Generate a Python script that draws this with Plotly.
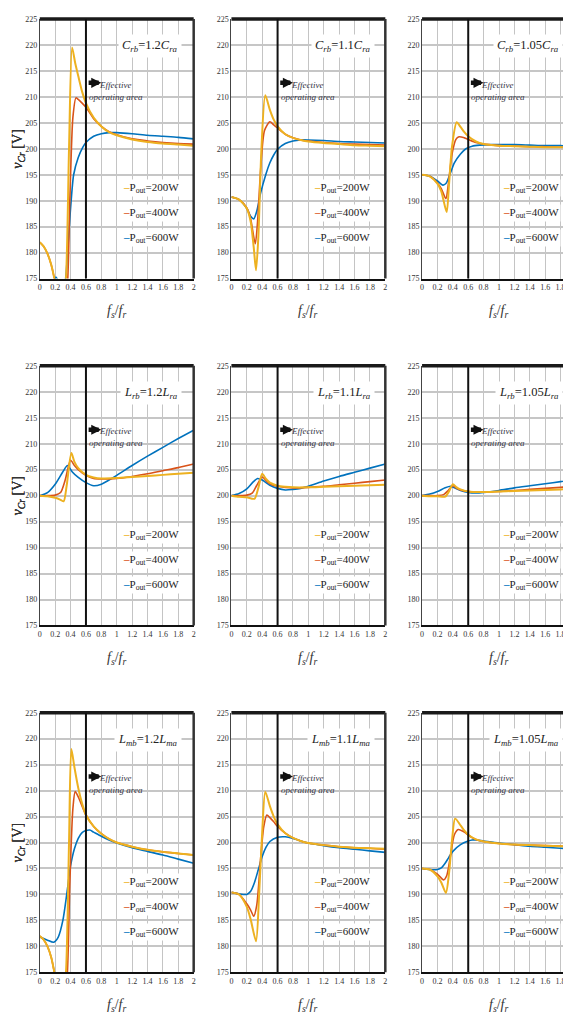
import plotly.graph_objects as go

# ---------------- data ----------------
X_TICKS = [0, 0.2, 0.4, 0.6, 0.8, 1, 1.2, 1.4, 1.6, 1.8, 2]
Y_TICKS = [175, 180, 185, 190, 195, 200, 205, 210, 215, 220, 225]
PANEL_LABELS = [
    "<i>C</i><sub><i>rb</i></sub>=1.2<i>C</i><sub><i>ra</i></sub>",
    "<i>C</i><sub><i>rb</i></sub>=1.1<i>C</i><sub><i>ra</i></sub>",
    "<i>C</i><sub><i>rb</i></sub>=1.05<i>C</i><sub><i>ra</i></sub>",
    "<i>L</i><sub><i>rb</i></sub>=1.2<i>L</i><sub><i>ra</i></sub>",
    "<i>L</i><sub><i>rb</i></sub>=1.1<i>L</i><sub><i>ra</i></sub>",
    "<i>L</i><sub><i>rb</i></sub>=1.05<i>L</i><sub><i>ra</i></sub>",
    "<i>L</i><sub><i>mb</i></sub>=1.2<i>L</i><sub><i>ma</i></sub>",
    "<i>L</i><sub><i>mb</i></sub>=1.1<i>L</i><sub><i>ma</i></sub>",
    "<i>L</i><sub><i>mb</i></sub>=1.05<i>L</i><sub><i>ma</i></sub>",
]
SERIES_NAMES = ["P<sub>out</sub>=200W", "P<sub>out</sub>=400W", "P<sub>out</sub>=600W"]
SERIES_COLORS = ["#EDB120", "#D95319", "#0072BD"]
VLINE_X = 0.6

# Panel A: C_rb = 1.2 C_ra
A_X_200 = [0, 0.05, 0.1, 0.15, 0.19, 0.25, 0.3, 0.34, 0.38, 0.42, 0.46, 0.5, 0.55, 0.6, 0.7, 0.8, 0.9, 1.0, 1.2, 1.4, 1.6, 1.8, 2.0]
A_Y_200 = [182, 181.2, 179.8, 177.6, 175, 171, 170, 175, 200, 219.5, 216.5, 214, 211, 208.8, 206, 204.3, 203.2, 202.6, 201.8, 201.3, 201, 200.8, 200.6]
A_X_400 = [0, 0.05, 0.1, 0.15, 0.19, 0.25, 0.3, 0.35, 0.39, 0.43, 0.47, 0.5, 0.55, 0.6, 0.7, 0.8, 0.9, 1.0, 1.2, 1.4, 1.6, 1.8, 2.0]
A_Y_400 = [182, 181.2, 179.8, 177.6, 175, 171, 169.5, 172, 190, 206, 209.8, 209.5, 208.8, 208, 205.8, 204.3, 203.3, 202.7, 201.9, 201.5, 201.2, 201, 200.9]
A_X_600 = [0, 0.15, 0.21, 0.26, 0.32, 0.36, 0.4, 0.44, 0.5, 0.56, 0.6, 0.7, 0.8, 0.9, 1.0, 1.2, 1.4, 1.6, 1.8, 2.0]
A_Y_600 = [170, 173, 175.3, 174, 174.2, 180, 188.5, 195, 198.3, 200.3, 201.2, 202.4, 202.9, 203.1, 203.1, 202.9, 202.6, 202.4, 202.2, 201.9]

# Panel B: C_rb = 1.1 C_ra
B_X_200 = [0, 0.1, 0.2, 0.25, 0.29, 0.32, 0.35, 0.39, 0.44, 0.5, 0.55, 0.6, 0.7, 0.8, 0.9, 1.0, 1.2, 1.4, 1.6, 1.8, 2.0]
B_Y_200 = [190.7, 190.2, 188.5, 186, 181, 176.6, 183, 200, 210.3, 207.5, 205.6, 204.3, 202.8, 202.1, 201.7, 201.4, 201.1, 200.9, 200.7, 200.6, 200.5]
B_X_400 = [0, 0.1, 0.2, 0.25, 0.31, 0.34, 0.38, 0.43, 0.5, 0.55, 0.6, 0.7, 0.8, 0.9, 1.0, 1.2, 1.4, 1.6, 1.8, 2.0]
B_Y_400 = [190.7, 190.2, 188.6, 186.5, 181.7, 186, 196, 203.5, 205.2, 204.6, 204, 202.8, 202.1, 201.7, 201.5, 201.2, 201, 200.9, 200.8, 200.7]
B_X_600 = [0, 0.1, 0.2, 0.25, 0.29, 0.33, 0.38, 0.45, 0.5, 0.55, 0.6, 0.7, 0.8, 0.9, 1.0, 1.2, 1.4, 1.6, 1.8, 2.0]
B_Y_600 = [190.7, 190.2, 188.5, 187, 186.5, 188, 191.5, 195.2, 197.3, 198.8, 199.9, 201, 201.5, 201.7, 201.7, 201.6, 201.4, 201.3, 201.2, 201.1]

# Panel C: C_rb = 1.05 C_ra
C_X_200 = [0, 0.1, 0.2, 0.25, 0.32, 0.35, 0.39, 0.45, 0.5, 0.55, 0.6, 0.7, 0.8, 1.0, 1.2, 1.4, 1.6, 1.8, 2.0]
C_Y_200 = [195, 194.7, 193.3, 191.8, 187.8, 193, 200.5, 205.1, 204.2, 203.2, 202.4, 201.4, 200.9, 200.6, 200.5, 200.4, 200.3, 200.3, 200.3]
C_X_400 = [0, 0.1, 0.2, 0.25, 0.31, 0.34, 0.39, 0.44, 0.48, 0.55, 0.6, 0.7, 0.8, 1.0, 1.2, 1.4, 1.6, 1.8, 2.0]
C_Y_400 = [195, 194.7, 193.4, 192.3, 190.4, 193, 199, 201.8, 202.3, 202.1, 201.8, 201.2, 200.9, 200.6, 200.5, 200.4, 200.4, 200.3, 200.3]
C_X_600 = [0, 0.1, 0.2, 0.27, 0.31, 0.36, 0.42, 0.5, 0.57, 0.65, 0.75, 0.9, 1.0, 1.2, 1.4, 1.6, 1.8, 2.0]
C_Y_600 = [195, 194.7, 193.8, 193, 193.3, 195, 197.3, 199, 200, 200.5, 200.7, 200.8, 200.8, 200.8, 200.7, 200.6, 200.6, 200.5]

# Panel D: L_rb = 1.2 L_ra
D_X_200 = [0, 0.1, 0.2, 0.27, 0.31, 0.35, 0.41, 0.45, 0.5, 0.6, 0.7, 0.8, 1.0, 1.2, 1.4, 1.6, 1.8, 2.0]
D_Y_200 = [200, 199.9, 199.6, 199.2, 198.9, 202, 208.2, 206.5, 205.3, 204, 203.5, 203.3, 203.4, 203.6, 203.8, 204, 204.2, 204.4]
D_X_400 = [0, 0.1, 0.2, 0.27, 0.33, 0.4, 0.45, 0.5, 0.6, 0.7, 0.8, 1.0, 1.2, 1.4, 1.6, 1.8, 2.0]
D_Y_400 = [200, 200, 200.1, 200.6, 203, 206.8, 205.8, 205, 203.9, 203.3, 203.2, 203.3, 203.7, 204.2, 204.8, 205.4, 206.1]
D_X_600 = [0, 0.1, 0.2, 0.3, 0.36, 0.42, 0.5, 0.6, 0.7, 0.8, 0.9, 1.0, 1.2, 1.4, 1.6, 1.8, 2.0]
D_Y_600 = [200, 200.6, 202.2, 204.6, 205.8, 204.6, 203.5, 202.5, 201.9, 202.2, 203, 203.9, 205.8, 207.6, 209.3, 211, 212.6]

# Panel E: L_rb = 1.1 L_ra
E_X_200 = [0, 0.1, 0.2, 0.3, 0.35, 0.4, 0.45, 0.5, 0.6, 0.7, 0.8, 1.0, 1.2, 1.4, 1.6, 1.8, 2.0]
E_Y_200 = [200, 199.8, 199.7, 199.4, 201.5, 204.2, 203.2, 202.5, 201.9, 201.7, 201.6, 201.6, 201.7, 201.8, 201.9, 202, 202.1]
E_X_400 = [0, 0.1, 0.2, 0.27, 0.33, 0.4, 0.45, 0.5, 0.6, 0.7, 0.8, 1.0, 1.2, 1.4, 1.6, 1.8, 2.0]
E_Y_400 = [200, 200, 200.1, 200.5, 202, 203.6, 202.9, 202.3, 201.8, 201.6, 201.5, 201.6, 201.8, 202.1, 202.4, 202.7, 203]
E_X_600 = [0, 0.1, 0.2, 0.28, 0.34, 0.4, 0.5, 0.6, 0.7, 0.8, 0.9, 1.0, 1.2, 1.4, 1.6, 1.8, 2.0]
E_Y_600 = [200, 200.4, 201.3, 202.6, 203.3, 203, 202, 201.4, 201.1, 201.2, 201.4, 201.8, 202.8, 203.7, 204.5, 205.3, 206.1]

# Panel F: L_rb = 1.05 L_ra
F_X_200 = [0, 0.1, 0.2, 0.3, 0.35, 0.4, 0.45, 0.5, 0.6, 0.7, 0.8, 1.0, 1.2, 1.4, 1.6, 1.8, 2.0]
F_Y_200 = [200, 199.9, 199.9, 199.8, 200.8, 202.2, 201.6, 201.2, 200.8, 200.7, 200.7, 200.8, 200.9, 201, 201.1, 201.2, 201.3]
F_X_400 = [0, 0.1, 0.2, 0.28, 0.34, 0.4, 0.45, 0.5, 0.6, 0.7, 0.8, 1.0, 1.2, 1.4, 1.6, 1.8, 2.0]
F_Y_400 = [200, 200, 200, 200.2, 201, 201.9, 201.4, 201.1, 200.8, 200.7, 200.7, 200.8, 201, 201.2, 201.4, 201.6, 201.8]
F_X_600 = [0, 0.1, 0.2, 0.3, 0.37, 0.42, 0.5, 0.6, 0.7, 0.8, 1.0, 1.2, 1.4, 1.6, 1.8, 2.0]
F_Y_600 = [200, 200.3, 200.8, 201.5, 201.8, 201.5, 201, 200.6, 200.5, 200.6, 201, 201.5, 201.9, 202.3, 202.7, 203.1]

# Panel G: L_mb = 1.2 L_ma
G_X_200 = [0, 0.05, 0.1, 0.15, 0.19, 0.25, 0.3, 0.34, 0.38, 0.41, 0.45, 0.5, 0.55, 0.6, 0.7, 0.8, 0.9, 1.0, 1.2, 1.4, 1.6, 1.8, 2.0]
G_Y_200 = [182, 181.3, 180, 177.8, 175, 171, 170, 175, 200, 218, 214.5, 210.5, 207.5, 205.3, 203.1, 201.7, 200.7, 200, 199.2, 198.6, 198.2, 197.9, 197.6]
G_X_400 = [0, 0.05, 0.1, 0.15, 0.19, 0.25, 0.3, 0.35, 0.39, 0.43, 0.46, 0.5, 0.55, 0.6, 0.7, 0.8, 0.9, 1.0, 1.2, 1.4, 1.6, 1.8, 2.0]
G_Y_400 = [182, 181.3, 180, 177.8, 175, 171, 169.5, 173, 192, 206.5, 209.8, 208.8, 207, 205.3, 203.1, 201.7, 200.7, 200, 199.2, 198.6, 198.2, 197.9, 197.6]
G_X_600 = [0, 0.1, 0.18, 0.24, 0.3, 0.35, 0.4, 0.45, 0.5, 0.55, 0.6, 0.65, 0.7, 0.8, 0.9, 1.0, 1.2, 1.4, 1.6, 1.8, 2.0]
G_Y_600 = [181.8, 181.2, 180.8, 181.8, 185, 190, 195.5, 198.8, 200.8, 201.9, 202.3, 202.4, 202, 201.2, 200.5, 199.9, 199, 198.3, 197.6, 196.8, 196]

# Panel H: L_mb = 1.1 L_ma
H_X_200 = [0, 0.1, 0.2, 0.25, 0.32, 0.36, 0.4, 0.44, 0.5, 0.55, 0.6, 0.7, 0.8, 0.9, 1.0, 1.2, 1.4, 1.6, 1.8, 2.0]
H_Y_200 = [190.4, 190, 187.6, 185.2, 181, 190, 202, 209.8, 207, 205, 203.5, 201.8, 200.9, 200.3, 199.9, 199.5, 199.2, 199, 198.9, 198.8]
H_X_400 = [0, 0.1, 0.2, 0.25, 0.29, 0.33, 0.38, 0.42, 0.46, 0.5, 0.55, 0.6, 0.7, 0.8, 0.9, 1.0, 1.2, 1.4, 1.6, 1.8, 2.0]
H_Y_400 = [190.4, 190, 188.2, 187, 185.8, 188, 197, 203, 205.3, 204.8, 204, 203.1, 201.8, 200.9, 200.3, 199.9, 199.5, 199.2, 199, 198.9, 198.7]
H_X_600 = [0, 0.1, 0.2, 0.25, 0.3, 0.35, 0.4, 0.45, 0.5, 0.6, 0.7, 0.8, 0.9, 1.0, 1.2, 1.4, 1.6, 1.8, 2.0]
H_Y_600 = [190.4, 190.1, 190, 190.6, 192.3, 194.8, 197.3, 199.1, 200.2, 201, 201.1, 200.8, 200.3, 199.9, 199.4, 199, 198.7, 198.4, 198.1]

# Panel I: L_mb = 1.05 L_ma
I_X_200 = [0, 0.1, 0.2, 0.25, 0.31, 0.35, 0.39, 0.43, 0.5, 0.55, 0.6, 0.7, 0.8, 1.0, 1.2, 1.4, 1.6, 1.8, 2.0]
I_Y_200 = [195, 194.8, 193.5, 192.3, 190.3, 194, 200.5, 204.6, 203.3, 202.3, 201.5, 200.6, 200.2, 199.8, 199.6, 199.5, 199.4, 199.3, 199.2]
I_X_400 = [0, 0.1, 0.2, 0.28, 0.32, 0.37, 0.42, 0.47, 0.55, 0.6, 0.7, 0.8, 1.0, 1.2, 1.4, 1.6, 1.8, 2.0]
I_Y_400 = [195, 194.8, 193.9, 192.8, 193.6, 197.5, 201.5, 202.5, 202, 201.4, 200.6, 200.2, 199.8, 199.6, 199.5, 199.4, 199.3, 199.2]
I_X_600 = [0, 0.1, 0.2, 0.25, 0.3, 0.35, 0.4, 0.5, 0.6, 0.65, 0.7, 0.8, 1.0, 1.2, 1.4, 1.6, 1.8, 2.0]
I_Y_600 = [195, 194.8, 194.8, 195.1, 196, 197.2, 198.3, 199.6, 200.3, 200.5, 200.5, 200.3, 199.9, 199.6, 199.3, 199.1, 198.9, 198.7]

PANELS = [
    [(A_X_200, A_Y_200), (A_X_400, A_Y_400), (A_X_600, A_Y_600)],
    [(B_X_200, B_Y_200), (B_X_400, B_Y_400), (B_X_600, B_Y_600)],
    [(C_X_200, C_Y_200), (C_X_400, C_Y_400), (C_X_600, C_Y_600)],
    [(D_X_200, D_Y_200), (D_X_400, D_Y_400), (D_X_600, D_Y_600)],
    [(E_X_200, E_Y_200), (E_X_400, E_Y_400), (E_X_600, E_Y_600)],
    [(F_X_200, F_Y_200), (F_X_400, F_Y_400), (F_X_600, F_Y_600)],
    [(G_X_200, G_Y_200), (G_X_400, G_Y_400), (G_X_600, G_Y_600)],
    [(H_X_200, H_Y_200), (H_X_400, H_Y_400), (H_X_600, H_Y_600)],
    [(I_X_200, I_Y_200), (I_X_400, I_Y_400), (I_X_600, I_Y_600)],
]

# ---------------- layout ----------------
PAGE_OFFSET = 8          # default body margin of the page holding the figure
W, H = 571 - PAGE_OFFSET, 1017 - PAGE_OFFSET
FONT = "Liberation Serif"
COL_LEFT = [38 - PAGE_OFFSET, 231 - PAGE_OFFSET, 423 - PAGE_OFFSET]
PW = 155
ROW_TOP = [15 - PAGE_OFFSET, 365 - PAGE_OFFSET, 715 - PAGE_OFFSET]
PH = 262
LEG_Y = [192.4, 187.6, 182.8]
LINE_W = [2.0, 1.6, 1.6]
LABEL_RIGHT = [1.85, 1.86, 1.83]
LEGEND_RIGHT = [1.84, 1.83, 1.81]

fig = go.Figure()
annotations = []
shapes = []
layout = {}

for i, series in enumerate(PANELS):
    r, c = divmod(i, 3)
    s = "" if i == 0 else str(i + 1)
    xr, yr = "x" + s, "y" + s
    x0 = COL_LEFT[c] / W
    x1 = min((COL_LEFT[c] + PW) / W, 1.0)
    xmax = 2.0 if (COL_LEFT[c] + PW) <= W else (W - COL_LEFT[c]) / PW * 2.0
    y1 = 1 - ROW_TOP[r] / H
    y0 = 1 - (ROW_TOP[r] + PH) / H

    layout["xaxis" + s] = dict(
        domain=[x0, x1], range=[0, xmax], anchor=yr,
        tickvals=X_TICKS, ticktext=[("%g" % v) for v in X_TICKS],
        showgrid=True, gridcolor="#c4c4c4", gridwidth=1.2, zeroline=False,
        showline=True, linecolor="#111", linewidth=1.5, ticks="",
        tickfont=dict(family=FONT, size=8, color="#333"), fixedrange=True,
    )
    layout["yaxis" + s] = dict(
        domain=[y0, y1], range=[175, 225], anchor=xr,
        tickvals=Y_TICKS, showgrid=True, gridcolor="#c6c6c6", gridwidth=1.8,
        zeroline=False, showline=True, linecolor="#444", linewidth=1, ticks="",
        tickfont=dict(family=FONT, size=8, color="#333"), fixedrange=True,
    )

    # curves (blue underneath, yellow on top)
    for k in [2, 1, 0]:
        xs, ys = series[k]
        fig.add_trace(go.Scatter(
            x=xs, y=ys, mode="lines", xaxis=xr, yaxis=yr, showlegend=False,
            line=dict(color=SERIES_COLORS[k], width=LINE_W[k], shape="spline", smoothing=0.7),
            hoverinfo="skip",
        ))

    # frame
    shapes.append(dict(type="line", xref=xr + " domain", yref=yr + " domain",
                       x0=0, x1=1, y0=1, y1=1, line=dict(color="#1a1a1a", width=3.5)))
    if x1 < 1.0:
        shapes.append(dict(type="line", xref=xr + " domain", yref=yr + " domain",
                           x0=1, x1=1, y0=0, y1=1, line=dict(color="#333", width=2.5)))
    # effective-area boundary
    shapes.append(dict(type="line", xref=xr, yref=yr + " domain",
                       x0=VLINE_X, x1=VLINE_X, y0=0, y1=1, line=dict(color="#111", width=2)))

    # arrow + text
    annotations.append(dict(xref=xr, yref=yr, axref=xr, ayref=yr,
                            x=0.8, y=212.7, ax=0.615, ay=212.7, text="",
                            showarrow=True, arrowhead=2, arrowsize=0.45, arrowwidth=4.5,
                            arrowcolor="#111", standoff=0, startstandoff=0))
    annotations.append(dict(xref=xr, yref=yr, x=0.99, y=211.2, showarrow=False,
                            text="<i>Effective</i><br><i>operating area</i>",
                            font=dict(family=FONT, size=9, color="#334"),
                            xanchor="center", yanchor="middle"))

    # panel label
    annotations.append(dict(xref=xr, yref=yr, x=LABEL_RIGHT[c], y=219.8, showarrow=False,
                            text=PANEL_LABELS[i], xanchor="right", yanchor="middle",
                            bgcolor="white", borderpad=3,
                            font=dict(family=FONT, size=12.5, color="#222")))
    # legend
    for k in range(3):
        annotations.append(dict(
            xref=xr, yref=yr, x=LEGEND_RIGHT[c], y=LEG_Y[k], showarrow=False,
            xanchor="right", yanchor="middle", bgcolor="white", borderpad=1,
            text="<span style='color:%s'><b>–</b></span>%s" % (SERIES_COLORS[k], SERIES_NAMES[k]),
            font=dict(family=FONT, size=11, color="#222")))

    # axis titles
    annotations.append(dict(xref="paper", yref="paper", x=(17 - PAGE_OFFSET) / W,
                            y=1 - (ROW_TOP[r] + PH / 2) / H, showarrow=False,
                            text="<i>v</i><sub><i>Cr</i></sub> [V]", textangle=-90,
                            xanchor="center", yanchor="middle",
                            font=dict(family=FONT, size=14, color="#333")))
    annotations.append(dict(xref="paper", yref="paper",
                            x=(COL_LEFT[c] + PW / 2) / W,
                            y=1 - (ROW_TOP[r] + PH + 33) / H, showarrow=False,
                            text="<i>f</i><sub><i>s</i></sub>/<i>f</i><sub><i>r</i></sub>",
                            xanchor="center", yanchor="middle",
                            font=dict(family=FONT, size=14, color="#333")))

fig.update_layout(
    width=W, height=H, autosize=False,
    margin=dict(l=0, r=0, t=0, b=0),
    paper_bgcolor="white", plot_bgcolor="white",
    showlegend=False, annotations=annotations, shapes=shapes,
    **layout,
)

fig.write_html("out.html")
